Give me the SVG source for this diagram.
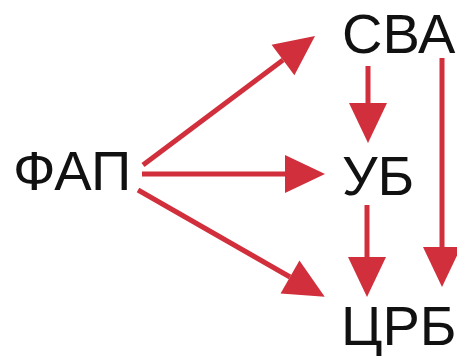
<svg xmlns="http://www.w3.org/2000/svg" width="457" height="356" viewBox="0 0 457 356">
<style>
.lbl{font-family:"Liberation Sans",Arial,sans-serif;font-size:56px;fill:#111}
.edge{stroke:#d12f3b;stroke-width:5;fill:none;marker-end:url(#ah)}
</style>
<defs>
<marker id="ah" markerUnits="userSpaceOnUse" markerWidth="41" markerHeight="39" refX="0" refY="19" orient="auto" overflow="visible">
<path d="M0,0 L40,19 L0,38 z" fill="#d12f3b"/>
</marker>
</defs>
<rect width="457" height="356" fill="#fff"/>
<g id="connectors">
<line class="edge" x1="143" y1="165" x2="283" y2="60"/>
<line class="edge" x1="142" y1="174" x2="285" y2="174"/>
<line class="edge" x1="138" y1="190" x2="290" y2="277"/>
<line class="edge" x1="368" y1="66" x2="368" y2="103"/>
<line class="edge" x1="367" y1="205" x2="367" y2="257"/>
<line class="edge" x1="442" y1="58" x2="442" y2="247"/>
</g>
<g id="fap"><text class="lbl" x="13" y="190">ФАП</text></g>
<g id="sva"><text class="lbl" x="342" y="53">СВА</text></g>
<g id="ub"><text class="lbl" x="342" y="195">УБ</text></g>
<g id="crb"><text class="lbl" x="341" y="345">ЦРБ</text></g>
</svg>
